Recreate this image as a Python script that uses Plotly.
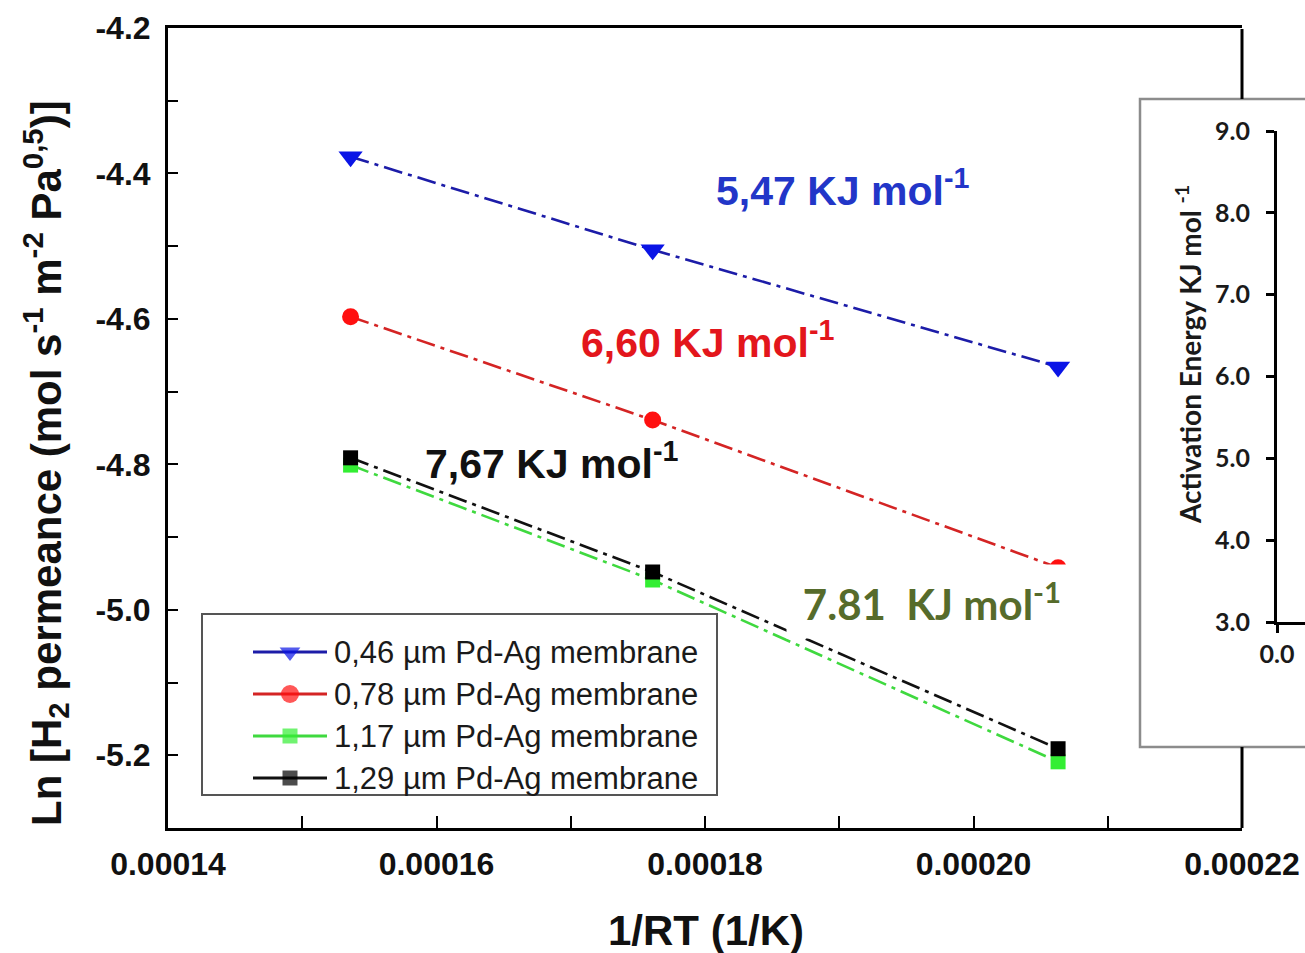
import plotly.graph_objects as go

# Figure size in px; layout helpers convert pixel positions to paper fractions
W, H = 1305, 953


def fx(p):
    return p / W


def fy(p):
    return 1 - p / H


# ---- data -------------------------------------------------------------
inv_rt = [0.0001536, 0.0001761, 0.0002063]          # 1/RT (1/K)
ln_perm_046 = [-4.377, -4.505, -4.666]              # 0.46 um membrane
ln_perm_078 = [-4.597, -4.739, -4.942]              # 0.78 um membrane
ln_perm_117 = [-4.801, -4.959, -5.209]              # 1.17 um membrane
ln_perm_129 = [-4.791, -4.948, -5.191]              # 1.29 um membrane

series_names = [
    "0,46 µm Pd-Ag membrane",
    "0,78 µm Pd-Ag membrane",
    "1,17 µm Pd-Ag membrane",
    "1,29 µm Pd-Ag membrane",
]
activation_labels = ["5,47", "6,60", "7,67", "7.81"]

x_major = [0.00014, 0.00016, 0.00018, 0.00020, 0.00022]
x_major_text = ["0.00014", "0.00016", "0.00018", "0.00020", "0.00022"]
x_minor = [0.00015, 0.00017, 0.00019, 0.00021]
y_major = [-5.2, -5.0, -4.8, -4.6, -4.4, -4.2]
y_minor = [-5.3, -5.1, -4.9, -4.7, -4.5, -4.3]

inset_y_ticks = [3.0, 4.0, 5.0, 6.0, 7.0, 8.0, 9.0]

# ---- styles -----------------------------------------------------------
ARIAL = "Liberation Sans, Arial, sans-serif"
CALIBRI = "Lato, Open Sans, sans-serif"
DASH = "19px,6px,4px,6px"

styles = [
    dict(values=ln_perm_046, line="#1c1ca8", marker="#0a14e6", symbol="triangle-down", size=21, lsize=18),
    dict(values=ln_perm_078, line="#d42424", marker="#ff1010", symbol="circle", size=17, lsize=18),
    dict(values=ln_perm_117, line="#3fd93f", marker="#33ee33", symbol="square", size=15, lsize=15),
    dict(values=ln_perm_129, line="#111111", marker="#000000", symbol="square", size=15, lsize=15),
]

fig = go.Figure()

# main data series
for name, st in zip(series_names, styles):
    fig.add_trace(go.Scatter(
        x=inv_rt, y=st["values"], name=name, mode="lines+markers",
        line=dict(color=st["line"], width=2.6, dash=DASH),
        marker=dict(symbol=st["symbol"], size=st["size"], color=st["marker"], line=dict(width=0)),
        showlegend=False, xaxis="x", yaxis="y",
    ))

# inset axes (only its left edge lies inside the figure)
fig.add_trace(go.Scatter(x=[], y=[], mode="markers", showlegend=False,
                         hoverinfo="skip", xaxis="x2", yaxis="y2"))

# legend samples drawn on a pixel-space overlay
LEG_X0, LEG_Y0, LEG_X1, LEG_Y1 = 202, 614, 717, 795
LEG_ROW0, LEG_STEP = 652, 42
for i, (name, st) in enumerate(zip(series_names, styles)):
    ry = LEG_ROW0 + i * LEG_STEP
    fig.add_trace(go.Scatter(
        x=[253, 290, 327], y=[ry, ry, ry], mode="lines+markers",
        line=dict(color=st["line"], width=3),
        marker=dict(symbol=st["symbol"], size=[0, st["lsize"], 0], color=st["marker"], line=dict(width=0)),
        showlegend=False, hoverinfo="skip", xaxis="x3", yaxis="y3",
    ))


def label(text, cx, cy, font, **kw):
    return dict(x=fx(cx), y=fy(cy), xref="paper", yref="paper", text=text,
                showarrow=False, xanchor=kw.pop("xanchor", "center"),
                yanchor=kw.pop("yanchor", "middle"), font=font, **kw)


annotations = []
for i, name in enumerate(series_names):
    annotations.append(label(name, 332, LEG_ROW0 + i * LEG_STEP,
                             dict(family=ARIAL, size=31, color="#1a1a1a"), xanchor="left"))

# activation-energy labels
for txt, (cx, cy), col in zip(
    activation_labels[:3],
    [(842, 188), (707, 340), (551, 461)],
    ["#2236c8", "#e3161c", "#111111"],
):
    annotations.append(label(f"{txt} KJ mol<sup>-1</sup>", cx, cy,
                             dict(family=ARIAL, size=41, color=col, weight="bold")))
annotations.append(label(
    f"{activation_labels[3]}&nbsp; KJ mol<sup>-1</sup>", 932, 601,
    dict(family=CALIBRI, size=42, color="#566b2b", weight="bold"),
    bgcolor="#ffffff", borderpad=0, width=290, height=73,
    align="center", valign="middle",
))

# axis titles
annotations.append(label(
    "Ln [H<sub>2</sub> permeance (mol s<sup>-1</sup> m<sup>-2</sup> Pa<sup>0,5</sup>)]",
    45, 463, dict(family=ARIAL, size=42, color="#111111", weight="bold"), textangle=-90,
))
annotations.append(label("1/RT (1/K)", 706, 930,
                         dict(family=ARIAL, size=42, color="#111111", weight="bold")))
annotations.append(label("Activation Energy KJ mol <sup>-1</sup>", 1189, 355,
                         dict(family=CALIBRI, size=28, color="#1a1a1a", weight="bold"),
                         textangle=-90))

shapes = [
    # legend frame
    dict(type="rect", xref="paper", yref="paper", x0=fx(LEG_X0), x1=fx(LEG_X1),
         y0=fy(LEG_Y1), y1=fy(LEG_Y0), line=dict(color="#555555", width=2),
         fillcolor="#ffffff", layer="below"),
    # inset frame
    dict(type="rect", xref="paper", yref="paper", x0=fx(1140), x1=fx(1340),
         y0=fy(747), y1=fy(99), line=dict(color="#8c8c8c", width=2.5),
         fillcolor="#ffffff", layer="below"),
    # right border of main frame, visible above and below the inset
    dict(type="line", xref="paper", yref="paper", x0=fx(1242), x1=fx(1242),
         y0=fy(29), y1=fy(99), line=dict(color="#000000", width=3)),
    dict(type="line", xref="paper", yref="paper", x0=fx(1242), x1=fx(1242),
         y0=fy(747), y1=fy(828), line=dict(color="#000000", width=3)),
]

tick_font = dict(family=ARIAL, size=32, color="#111111", weight="bold")
inset_font = dict(family=CALIBRI, size=25, color="#1a1a1a", weight="bold")

fig.update_layout(
    width=W, height=H,
    margin=dict(l=0, r=0, t=0, b=0, autoexpand=False),
    paper_bgcolor="#ffffff", plot_bgcolor="rgba(0,0,0,0)",
    showlegend=False,
    xaxis=dict(
        domain=[fx(168), fx(1242)], range=[0.00014, 0.00022], anchor="y",
        showline=True, linecolor="#000000", linewidth=3, mirror=True,
        ticks="inside", ticklen=12, tickwidth=2, tickcolor="#000000",
        tickvals=x_major, ticktext=x_major_text, tickfont=tick_font,
        ticklabelstandoff=6,
        minor=dict(tickvals=x_minor, ticks="inside", ticklen=12, tickwidth=2, tickcolor="#000000"),
        showgrid=False, zeroline=False, fixedrange=True,
    ),
    yaxis=dict(
        domain=[fy(828), fy(28)], range=[-5.3, -4.2], anchor="x",
        showline=True, linecolor="#000000", linewidth=3, mirror=False,
        ticks="inside", ticklen=10, tickwidth=2, tickcolor="#000000",
        tickvals=y_major, ticktext=[f"{v:.1f}" for v in y_major], tickfont=tick_font,
        ticklabelstandoff=8,
        minor=dict(tickvals=y_minor, ticks="inside", ticklen=10, tickwidth=2, tickcolor="#000000"),
        showgrid=False, zeroline=False, fixedrange=True,
    ),
    xaxis2=dict(
        domain=[fx(1277), 1.0], range=[0, 1], anchor="y2",
        showline=True, linecolor="#000000", linewidth=3,
        ticks="outside", ticklen=8, tickwidth=3, tickcolor="#000000",
        tickvals=[0], ticktext=["0.0"], tickfont=inset_font,
        showgrid=False, zeroline=False, fixedrange=True,
    ),
    yaxis2=dict(
        domain=[fy(622), fy(131)], range=[3.0, 9.0], anchor="x2",
        showline=True, linecolor="#000000", linewidth=3,
        ticks="outside", ticklen=8, tickwidth=3, tickcolor="#000000",
        tickvals=inset_y_ticks, ticktext=[f"{v:.1f}" for v in inset_y_ticks],
        tickfont=inset_font, ticklabelstandoff=11,
        showgrid=False, zeroline=False, fixedrange=True,
    ),
    xaxis3=dict(domain=[0, 1], range=[0, W], anchor="y3", visible=False, fixedrange=True),
    yaxis3=dict(domain=[0, 1], range=[H, 0], anchor="x3", visible=False, fixedrange=True),
    annotations=annotations,
    shapes=shapes,
)

fig.write_html("out.html")
